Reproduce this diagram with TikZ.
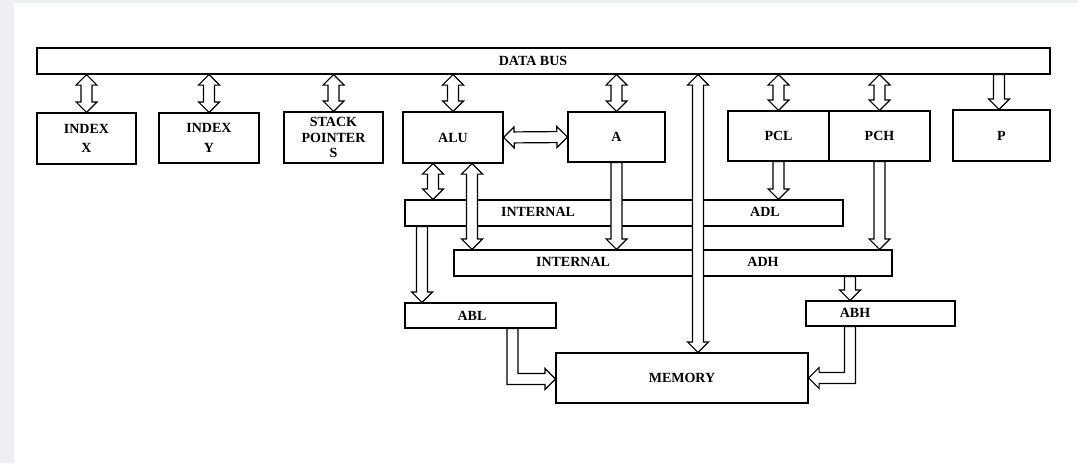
\documentclass[tikz,border=0pt]{standalone}
\usepackage{fontspec}
\setmainfont{Liberation Serif}
\usetikzlibrary{calc}
\definecolor{bgc}{HTML}{EDEFF3}
\newcommand\arSW{5.5pt}
\newcommand\arHW{10.5pt}
\newcommand\arHL{10.5pt}
\newcommand\lblfont{\bfseries\fontsize{14}{16.5}\selectfont}
\begin{document}
\begin{tikzpicture}[x=1pt,y=-1pt,
  box/.style={draw, line width=1.2pt, fill=white, inner sep=0pt, align=center, font=\lblfont},
  lbl/.style={inner sep=0pt, font=\lblfont},
  arr/.style={draw, line width=1.2pt, fill=white, line join=miter},
  sarr/.style={to path={let \p1=(\tikztostart), \p2=(\tikztotarget), \p3=($(\p2)!\arHL!(\p1)$) in
    ($(\p1)!\arSW!90:(\p2)$) -- ($(\p3)!\arSW!-90:(\p1)$) -- ($(\p3)!\arHW!-90:(\p1)$) -- (\p2)
    -- ($(\p3)!\arHW!90:(\p1)$) -- ($(\p3)!\arSW!90:(\p1)$) -- ($(\p1)!\arSW!-90:(\p2)$) -- cycle}},
  darr/.style={to path={let \p1=(\tikztostart), \p2=(\tikztotarget), \p3=($(\p2)!\arHL!(\p1)$), \p4=($(\p1)!\arHL!(\p2)$) in
    (\p1) -- ($(\p4)!\arHW!90:(\p2)$) -- ($(\p4)!\arSW!90:(\p2)$) -- ($(\p3)!\arSW!-90:(\p1)$) -- ($(\p3)!\arHW!-90:(\p1)$) -- (\p2)
    -- ($(\p3)!\arHW!90:(\p1)$) -- ($(\p3)!\arSW!90:(\p1)$) -- ($(\p4)!\arSW!-90:(\p2)$) -- ($(\p4)!\arHW!-90:(\p2)$) -- cycle}}]

\fill[bgc] (0,0) rectangle (1078,463);
\fill[white] (14,3) rectangle (1078,463);
\useasboundingbox (0,0) rectangle (1078,463);

% boxes and buses
\node[box, minimum width=1013pt, minimum height=26pt] (bus) at (543.5,61) {};
\node[lbl] (buslbl) at (533,61) {DATA BUS};
\node[box, minimum width=99pt, minimum height=51pt] (ix) at (86.5,138.5) {\rule{0pt}{6pt}INDEX\\[3pt]X};
\node[box, minimum width=100pt, minimum height=50pt] (iy) at (209,138) {\rule{0pt}{6pt}INDEX\\[3pt]Y};
\node[box, minimum width=99pt, minimum height=51pt, font=\bfseries\fontsize{14}{15.5}\selectfont] (sp) at (333.5,137.5) {STACK\\POINTER\\S};
\node[box, minimum width=100pt, minimum height=51pt] (alu) at (453,137.5) {ALU};
\node[box, minimum width=97pt, minimum height=50pt] (a) at (616.5,137) {A};
\node[box, minimum width=101pt, minimum height=50pt] (pcl) at (778.5,136) {PCL};
\node[box, minimum width=101pt, minimum height=50pt] (pch) at (879.5,136) {PCH};
\node[box, minimum width=97pt, minimum height=51pt] (p) at (1001.5,135.5) {P};

\node[box, minimum width=438pt, minimum height=26pt] (adl) at (624,213) {};
\node[lbl] (adll1) at (538,212) {INTERNAL};
\node[lbl] (adll2) at (765,212) {ADL};
\node[box, minimum width=438pt, minimum height=26pt] (adh) at (673,263) {};
\node[lbl] (adhl1) at (573,262) {INTERNAL};
\node[lbl] (adhl2) at (763,262) {ADH};

\node[box, minimum width=151pt, minimum height=25pt] (abl) at (480.5,315.5) {};
\node[lbl] (abllbl) at (472,316) {ABL};
\node[box, minimum width=149pt, minimum height=25pt] (abh) at (880.5,313.5) {};
\node[lbl] (abhlbl) at (855,313) {ABH};
\node[box, minimum width=252pt, minimum height=50pt] (mem) at (682,378) {MEMORY};

% data bus connections
\draw[arr] (ix.north |- bus.south) to[darr] (ix.north);
\draw[arr] (iy.north |- bus.south) to[darr] (iy.north);
\draw[arr] (sp.north |- bus.south) to[darr] (sp.north);
\draw[arr] (alu.north |- bus.south) to[darr] (alu.north);
\draw[arr] (a.north |- bus.south) to[darr] (a.north);
\draw[arr] (pcl.north |- bus.south) to[darr] (pcl.north);
\draw[arr] (pch.north |- bus.south) to[darr] (pch.north);
\coordinate (pT) at ($(p.north)+(-2.5,0)$);
\draw[arr] (pT |- bus.south) to[sarr] (pT);
\draw[arr] (alu.east) to[darr] (a.west);

% internal connections
\coordinate (aluL) at ($(alu.south)+(-20,0)$);
\coordinate (aluR) at ($(alu.south)+(19,0)$);
\draw[arr] (aluL) to[darr] (aluL |- adl.north);
\draw[arr] (aluR) to[darr] (aluR |- adh.north);
\draw[arr] (a.south) to[sarr] (a.south |- adh.north);
\draw[arr] (pcl.south) to[sarr] (pcl.south |- adl.north);
\draw[arr] (pch.south) to[sarr] (pch.south |- adh.north);
\coordinate (memT) at ($(mem.north)+(16,0)$);
\draw[arr] (memT |- bus.south) to[darr] (memT);
\coordinate (ablT) at ($(abl.north)+(-58.5,0)$);
\draw[arr] (ablT |- adl.south) to[sarr] (ablT);
\coordinate (abhT) at ($(abh.north)+(-30.5,0)$);
\draw[arr] (abhT |- adh.south) to[sarr] (abhT);

% address buffers to memory
\draw[arr] let \p1=($(abl.south)+(32,0)$), \p2=($(mem.west)+(0,1)$) in
  (\x1-\arSW,\y1) -- (\x1-\arSW,\y2-\arSW) -- (\x2-\arHL,\y2-\arSW) -- (\x2-\arHL,\y2-\arHW) -- (\p2)
  -- (\x2-\arHL,\y2+\arHW) -- (\x2-\arHL,\y2+\arSW) -- (\x1+\arSW,\y2+\arSW) -- (\x1+\arSW,\y1) -- cycle;
\draw[arr] let \p1=($(abh.south)+(-30.5,0)$), \p2=(mem.east) in
  (\x1+\arSW,\y1) -- (\x1+\arSW,\y2-\arSW) -- (\x2+\arHL,\y2-\arSW) -- (\x2+\arHL,\y2-\arHW) -- (\p2)
  -- (\x2+\arHL,\y2+\arHW) -- (\x2+\arHL,\y2+\arSW) -- (\x1-\arSW,\y2+\arSW) -- (\x1-\arSW,\y1) -- cycle;
\end{tikzpicture}
\end{document}
